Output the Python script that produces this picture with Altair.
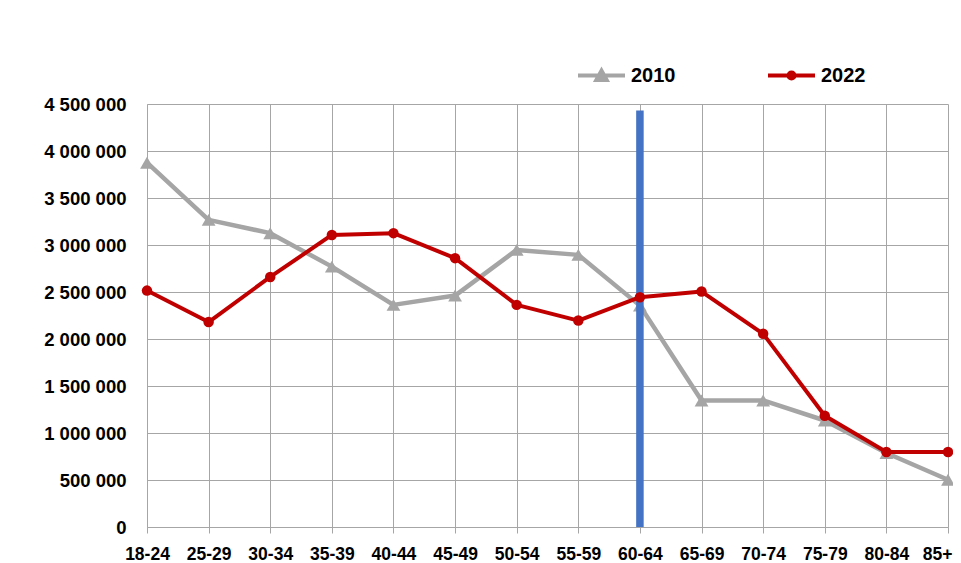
import altair as alt
import pandas as pd

ages = ["18-24", "25-29", "30-34", "35-39", "40-44", "45-49", "50-54",
        "55-59", "60-64", "65-69", "70-74", "75-79", "80-84", "85+"]
pop_2010 = [3876000, 3267000, 3126000, 2770000, 2363000, 2462000, 2948000,
            2895000, 2355000, 1346000, 1346000, 1133000, 787000, 503000]
pop_2022 = [2515000, 2180000, 2660000, 3107000, 3126000, 2860000, 2363000,
            2196000, 2445000, 2505000, 2055000, 1183000, 797000, 797000]
y_ticks = [0, 500000, 1000000, 1500000, 2000000, 2500000, 3000000,
           3500000, 4000000, 4500000]
marker_age = ["60-64"]
marker_top = [4430000]

GRAY = "#A5A5A5"
RED = "#C00000"
BLUE = "#4472C4"
GRID = "#A6A6A6"
FONT = "Liberation Sans"

df10 = pd.DataFrame({"age": ages, "value": pop_2010, "year": "2010"})
df22 = pd.DataFrame({"age": ages, "value": pop_2022, "year": "2022"})
marker_df = pd.DataFrame({"age": marker_age, "y0": [0] * len(marker_age), "y1": marker_top})

last_age_test = "datum.value === '" + ages[-1] + "'"

x_enc = alt.X("age:N", sort=ages, scale=alt.Scale(type="point", padding=0),
              axis=alt.Axis(title=None, labelAngle=0, grid=True, gridColor=GRID, gridWidth=1,
                            domainColor=GRID, tickColor=GRID, tickSize=6, labelPadding=12,
                            labelFont=FONT, labelFontSize=17.5, labelFontWeight="bold",
                            labelColor="#000000",
                            labelAlign={"condition": {"test": last_age_test, "value": "right"},
                                        "value": "center"},
                            labelOffset={"condition": {"test": last_age_test, "value": 4},
                                         "value": 0}))
y_enc = alt.Y("value:Q", scale=alt.Scale(domain=[0, 4500000], nice=False, zero=True),
              axis=alt.Axis(title=None, values=y_ticks, grid=True, gridColor=GRID, gridWidth=1,
                            domainColor=GRID, ticks=False, labelPadding=21,
                            labelFont=FONT, labelFontSize=18.5, labelFontWeight="bold",
                            labelColor="#000000",
                            labelExpr="replace(replace(format(datum.value, ','), ',', ' '), ',', ' ')"))

tri_path = "M-1,0L1,0M-0.22,0.19L0.22,0.19L0,-0.21Z"
circ_path = "M-1,0L1,0M0.13,0A0.13,0.13,0,1,1,-0.13,0A0.13,0.13,0,1,1,0.13,0Z"


def make_legend(x, path, col):
    return alt.Legend(
        title=None, orient="none", legendX=x, legendY=-54, direction="horizontal",
        padding=0, labelOffset=4,
        labelFont=FONT, labelFontSize=20, labelFontWeight="bold", labelColor="#000000",
        symbolType=path, symbolSize=2209, symbolStrokeWidth=4,
        symbolFillColor=col, symbolStrokeColor=col, symbolOpacity=1,
    )


c10 = alt.Color("year:N", scale=alt.Scale(domain=["2010"], range=[GRAY]),
                legend=make_legend(429, tri_path, GRAY))
c10_nolegend = alt.Color("year:N", scale=alt.Scale(domain=["2010"], range=[GRAY]), legend=None)
s22 = alt.Stroke("year:N", scale=alt.Scale(domain=["2022"], range=[RED]),
                 legend=make_legend(619, circ_path, RED))
f22 = alt.Fill("year:N", scale=alt.Scale(domain=["2022"], range=[RED]), legend=None)

b10 = alt.Chart(df10).encode(x=x_enc, y=y_enc)
b22 = alt.Chart(df22).encode(x=x_enc, y=y_enc)

l2010 = b10.mark_line(strokeWidth=4.5, strokeJoin="round").encode(color=c10)
p2010 = b10.mark_point(shape="triangle-up", filled=True, size=190, opacity=1).encode(color=c10_nolegend)
rule = alt.Chart(marker_df).mark_rule(color=BLUE, strokeWidth=7.5).encode(
    x=alt.X("age:N", sort=ages), y=alt.Y("y0:Q"), y2="y1:Q")
l2022 = b22.mark_line(strokeWidth=4, strokeJoin="round").encode(stroke=s22)
p2022 = b22.mark_point(shape="circle", filled=True, size=110, opacity=1, strokeWidth=0).encode(fill=f22)

chart = alt.layer(l2010, p2010, rule, l2022, p2022).properties(
    width=801, height=423,
    autosize=alt.AutoSizeParams(type="none"),
    padding={"left": 139, "top": 96, "right": 5, "bottom": 36},
    background="white",
).configure_view(strokeWidth=0)

chart.save("out.html", embed_options={"renderer": "svg", "actions": False})
